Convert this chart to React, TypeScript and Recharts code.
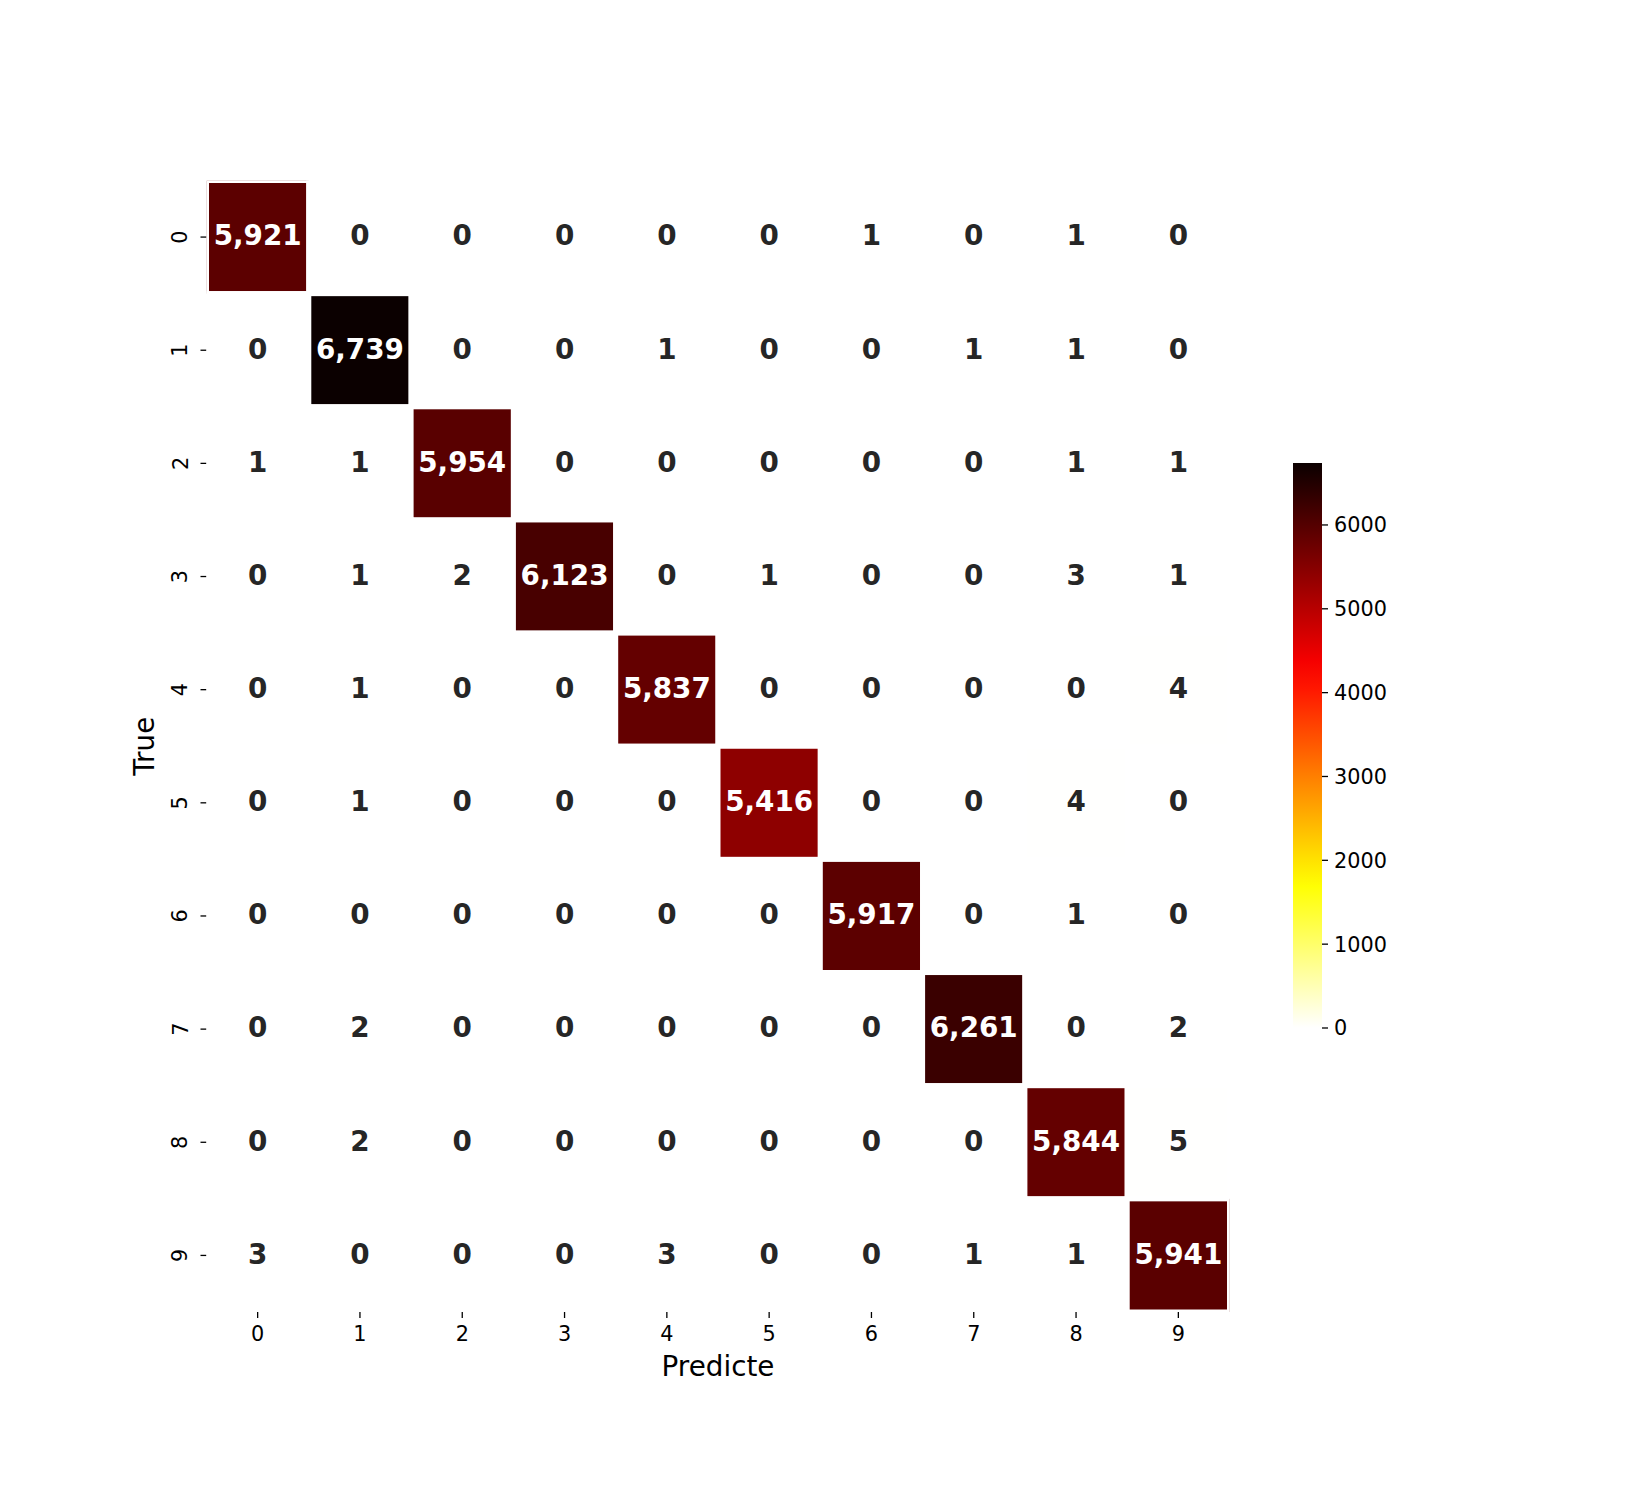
import {
  ScatterChart,
  Scatter,
  XAxis,
  YAxis,
  Label,
  BarChart,
  Bar,
} from 'recharts';

// confusion matrix, rows = true class, columns = predicted class
const CLASS_LABELS = ['0', '1', '2', '3', '4', '5', '6', '7', '8', '9'];
const ROW_0 = [5921, 0, 0, 0, 0, 0, 1, 0, 1, 0];
const ROW_1 = [0, 6739, 0, 0, 1, 0, 0, 1, 1, 0];
const ROW_2 = [1, 1, 5954, 0, 0, 0, 0, 0, 1, 1];
const ROW_3 = [0, 1, 2, 6123, 0, 1, 0, 0, 3, 1];
const ROW_4 = [0, 1, 0, 0, 5837, 0, 0, 0, 0, 4];
const ROW_5 = [0, 1, 0, 0, 0, 5416, 0, 0, 4, 0];
const ROW_6 = [0, 0, 0, 0, 0, 0, 5917, 0, 1, 0];
const ROW_7 = [0, 2, 0, 0, 0, 0, 0, 6261, 0, 2];
const ROW_8 = [0, 2, 0, 0, 0, 0, 0, 0, 5844, 5];
const ROW_9 = [3, 0, 0, 0, 3, 0, 0, 1, 1, 5941];
const COLORBAR_TICKS = [0, 1000, 2000, 3000, 4000, 5000, 6000];

const MATRIX = [ROW_0, ROW_1, ROW_2, ROW_3, ROW_4, ROW_5, ROW_6, ROW_7, ROW_8, ROW_9];
const VMAX = Math.max(...MATRIX.flat());

const cells = MATRIX.flatMap((row, r) => row.map((v, c) => ({ x: c, y: r, v })));

// layout
const FONT = '"DejaVu Sans", sans-serif';
const TICK_FONT = 20.8;
const PLOT_LEFT = 206.5;
const PLOT_RIGHT = 1229.5;
const PLOT_TOP = 180.5;
const PLOT_BOTTOM = 1312;
const Y_AXIS_W = 86.5;
const X_AXIS_H = 80;
const CELL_W = (PLOT_RIGHT - PLOT_LEFT) / CLASS_LABELS.length;
const CELL_H = (PLOT_BOTTOM - PLOT_TOP) / CLASS_LABELS.length;

// matplotlib "hot_r"
function hotR(t: number): [number, number, number] {
  const s = 1 - Math.min(1, Math.max(0, t));
  const r = s < 0.365079 ? 0.0416 + (1 - 0.0416) * (s / 0.365079) : 1;
  const g = s < 0.365079 ? 0 : s < 0.746032 ? (s - 0.365079) / (0.746032 - 0.365079) : 1;
  const b = s < 0.746032 ? 0 : (s - 0.746032) / (1 - 0.746032);
  return [r, g, b];
}

function toHex([r, g, b]: [number, number, number]) {
  const h = (x: number) => Math.round(x * 255).toString(16).padStart(2, '0');
  return `#${h(r)}${h(g)}${h(b)}`;
}

function luminance([r, g, b]: [number, number, number]) {
  const lin = (c: number) => (c <= 0.03928 ? c / 12.92 : Math.pow((c + 0.055) / 1.055, 2.4));
  return 0.2126 * lin(r) + 0.7152 * lin(g) + 0.0722 * lin(b);
}

const HeatCell = (props: any) => {
  const { cx, cy, payload } = props;
  if (cx == null || cy == null) return null;
  const rgb = hotR(payload.v / VMAX);
  const textColor = luminance(rgb) > 0.408 ? '#262626' : '#ffffff';
  return (
    <g>
      <rect
        x={cx - CELL_W / 2}
        y={cy - CELL_H / 2}
        width={CELL_W}
        height={CELL_H}
        fill={toHex(rgb)}
        stroke="#ffffff"
        strokeWidth={5}
      />
      <text
        x={cx}
        y={cy}
        dy="0.3em"
        textAnchor="middle"
        fill={textColor}
        fontSize={27.8}
        fontWeight="bold"
        fontFamily={FONT}
      >
        {payload.v.toLocaleString('en-US')}
      </text>
    </g>
  );
};

const RotatedYTick = (props: any) => {
  const { x, y, payload } = props;
  return (
    <text
      x={x}
      y={y}
      transform={`rotate(-90 ${x} ${y})`}
      textAnchor="middle"
      fill="#000"
      fontSize={TICK_FONT}
      fontFamily={FONT}
    >
      {CLASS_LABELS[payload.value]}
    </text>
  );
};

const renderYLabel = (props: any) => {
  const vb = props.viewBox;
  const x = vb.x + 23.5;
  const y = vb.y + vb.height / 2;
  return (
    <text
      x={x}
      y={y}
      dy="0.36em"
      transform={`rotate(-90 ${x} ${y})`}
      textAnchor="middle"
      fill="#000"
      fontSize={27.8}
      fontFamily={FONT}
    >
      True
    </text>
  );
};

const renderXLabel = (props: any) => {
  const vb = props.viewBox;
  return (
    <text
      x={vb.x + vb.width / 2}
      y={vb.y + 64}
      textAnchor="middle"
      fill="#000"
      fontSize={27.8}
      fontFamily={FONT}
    >
      Predicte
    </text>
  );
};

const gradientStops = Array.from({ length: 21 }, (_, i) => i / 20);

export default function App() {
  return (
    <div
      style={{
        position: 'absolute',
        left: 0,
        top: 0,
        width: 1650,
        height: 1500,
        background: '#ffffff',
        fontFamily: FONT,
      }}
    >
      <div style={{ position: 'absolute', left: 0, top: 0 }}>
        <ScatterChart
          width={1650}
          height={1500}
          margin={{
            top: PLOT_TOP,
            right: 1650 - PLOT_RIGHT,
            bottom: 1500 - PLOT_BOTTOM - X_AXIS_H,
            left: PLOT_LEFT - Y_AXIS_W,
          }}
        >
          <XAxis
            type="number"
            dataKey="x"
            domain={[-0.5, 9.5]}
            ticks={[0, 1, 2, 3, 4, 5, 6, 7, 8, 9]}
            interval={0}
            allowDataOverflow
            height={X_AXIS_H}
            axisLine={false}
            tickSize={6}
            tickMargin={8}
            tickLine={{ stroke: '#000', strokeWidth: 1.3 }}
            tick={{ fill: '#000', fontSize: TICK_FONT, fontFamily: FONT }}
            tickFormatter={(v: number) => CLASS_LABELS[v]}
          >
            <Label content={renderXLabel} />
          </XAxis>
          <YAxis
            type="number"
            dataKey="y"
            domain={[-0.5, 9.5]}
            ticks={[0, 1, 2, 3, 4, 5, 6, 7, 8, 9]}
            interval={0}
            reversed
            allowDataOverflow
            width={Y_AXIS_W}
            axisLine={false}
            tickSize={6}
            tickMargin={13}
            tickLine={{ stroke: '#000', strokeWidth: 1.3 }}
            tick={<RotatedYTick />}
          >
            <Label content={renderYLabel} />
          </YAxis>
          <Scatter data={cells} shape={<HeatCell />} isAnimationActive={false} />
        </ScatterChart>
      </div>

      <div style={{ position: 'absolute', left: 1200, top: 400 }}>
        <BarChart
          width={250}
          height={700}
          data={[{ name: 'cbar', v: VMAX }]}
          margin={{ top: 63, bottom: 72, left: 93, right: 48 }}
          barCategoryGap={0}
          barGap={0}
        >
          <defs>
            <linearGradient id="cbarGrad" x1="0" y1="1" x2="0" y2="0">
              {gradientStops.map((t) => (
                <stop key={t} offset={`${t * 100}%`} stopColor={toHex(hotR(t))} />
              ))}
            </linearGradient>
          </defs>
          <XAxis dataKey="name" hide />
          <YAxis
            orientation="right"
            type="number"
            domain={[0, VMAX]}
            ticks={COLORBAR_TICKS}
            interval={0}
            allowDataOverflow
            width={80}
            axisLine={false}
            tickSize={6}
            tickMargin={6}
            tickLine={{ stroke: '#000', strokeWidth: 1.3 }}
            tick={{ fill: '#000', fontSize: TICK_FONT, fontFamily: FONT }}
          />
          <Bar dataKey="v" fill="url(#cbarGrad)" isAnimationActive={false} />
        </BarChart>
      </div>
    </div>
  );
}
